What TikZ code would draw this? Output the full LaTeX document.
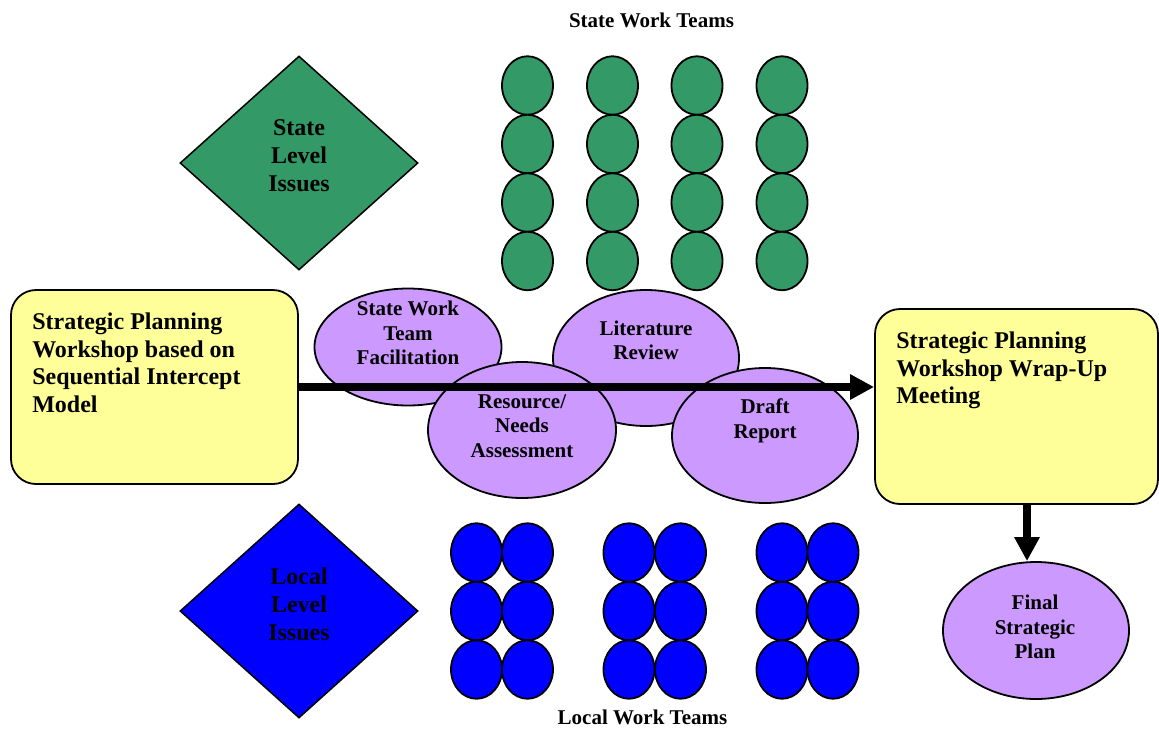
\documentclass[tikz,border=0pt]{standalone}
\usepackage{fontspec}
\setmainfont{Liberation Serif}
\usetikzlibrary{shapes.geometric, arrows.meta}

\definecolor{teamGreen}{HTML}{339966}
\definecolor{teamBlue}{HTML}{0000FF}
\definecolor{taskPurple}{HTML}{CC99FF}
\definecolor{boxYellow}{HTML}{FFFF99}

\tikzstyle{issues} = [diamond, minimum width=238pt, minimum height=214pt, inner sep=0pt, draw=black, line width=1.5pt]
\tikzstyle{stateTeam} = [ellipse, minimum width=51pt, minimum height=58.5pt, inner sep=0pt, draw=black, line width=1.8pt, fill=teamGreen]
\tikzstyle{localTeam} = [stateTeam, fill=teamBlue]
\tikzstyle{tasks} = [ellipse, inner sep=0pt, draw=black, line width=1.8pt, fill=taskPurple]
\tikzstyle{workshop} = [rectangle, rounded corners=25pt, inner sep=0pt, draw=black, line width=1.8pt, fill=boxYellow]
\tikzstyle{bigText} = [font=\fontsize{24}{27.5}\selectfont\bfseries, align=left, inner sep=0pt, anchor=north west]
\tikzstyle{issueText} = [font=\fontsize{24}{28}\selectfont\bfseries, align=center, inner sep=0pt]
\tikzstyle{taskText} = [font=\fontsize{21}{24.5}\selectfont\bfseries, align=center, inner sep=0pt]
\tikzstyle{title} = [font=\fontsize{21}{24}\selectfont\bfseries, inner sep=0pt]
\tikzstyle{arrow} = [line width=8pt, -{Triangle[length=24pt, width=24pt]}]

\begin{document}
\begin{tikzpicture}[x=1pt, y=-1pt]
        \useasboundingbox (0,0) rectangle (1159,729);

        % work teams
        \foreach \c/\x in {1/527.5, 2/612.5, 3/697, 4/782}
            \foreach \r/\y in {1/85.5, 2/144, 3/202.5, 4/261}
                \node (state-\c-\r) [stateTeam] at (\x,\y) {};
        \foreach \c/\x in {1/476.5, 2/527.5, 3/629, 4/680.5, 5/782, 6/833}
            \foreach \r/\y in {1/552.5, 2/611, 3/669.5}
                \node (local-\c-\r) [localTeam] at (\x,\y) {};

        \node (stateTitle) [title] at (651.5,20) {State Work Teams};
        \node (localTitle) [title] at (642.5,717) {Local Work Teams};

        \node (stateIssues) [issues, fill=teamGreen] at (299,163) {};
        \node (localIssues) [issues, fill=teamBlue] at (299,611) {};
        \node (stateIssuesText) [issueText] at (299,156) {State\\Level\\Issues};
        \node (localIssuesText) [issueText] at (299,604.5) {Local\\Level\\Issues};

        % workshops
        \node (workshop) [workshop, minimum width=287pt, minimum height=194pt] at (154.5,387) {};
        \node (wrapUp) [workshop, minimum width=283pt, minimum height=195pt] at (1016.5,406.5) {};
        \node (workshopText) [bigText] at ([shift={(22,24)}]workshop.north west) {Strategic Planning\\Workshop based on\\Sequential Intercept\\Model};
        \node (wrapUpText) [bigText] at ([shift={(22,24)}]wrapUp.north west) {Strategic Planning\\Workshop Wrap-Up\\Meeting};

        \node (facilitation) [tasks, minimum width=187pt, minimum height=117pt] at (408,347) {};
        \node (literature) [tasks, minimum width=186pt, minimum height=136pt] at (646,358) {};
        \node (assessment) [tasks, minimum width=188pt, minimum height=136pt] at (522,430) {};
        \node (draft) [tasks, minimum width=186pt, minimum height=135pt] at (765,435.5) {};
        \node (finalPlan) [tasks, minimum width=186pt, minimum height=137pt] at (1036,630.5) {};

        \node (facilitationText) [taskText] at (408,333) {State Work\\Team\\Facilitation};
        \node (literatureText) [taskText] at (646,340.5) {Literature\\Review};
        \node (assessmentText) [taskText] at (522,426) {Resource/\\Needs\\Assessment};
        \node (draftText) [taskText] at (765,421) {Draft\\Report};
        \node (finalPlanText) [taskText] at (1035,627) {Final\\Strategic\\Plan};

        \draw[arrow] (workshop.east) -- (workshop.east -| wrapUp.west);
        \draw[arrow] ([xshift=10.5pt]wrapUp.south) -- ([xshift=10.5pt]wrapUp.south |- finalPlan.north);

    \end{tikzpicture}
\end{document}
